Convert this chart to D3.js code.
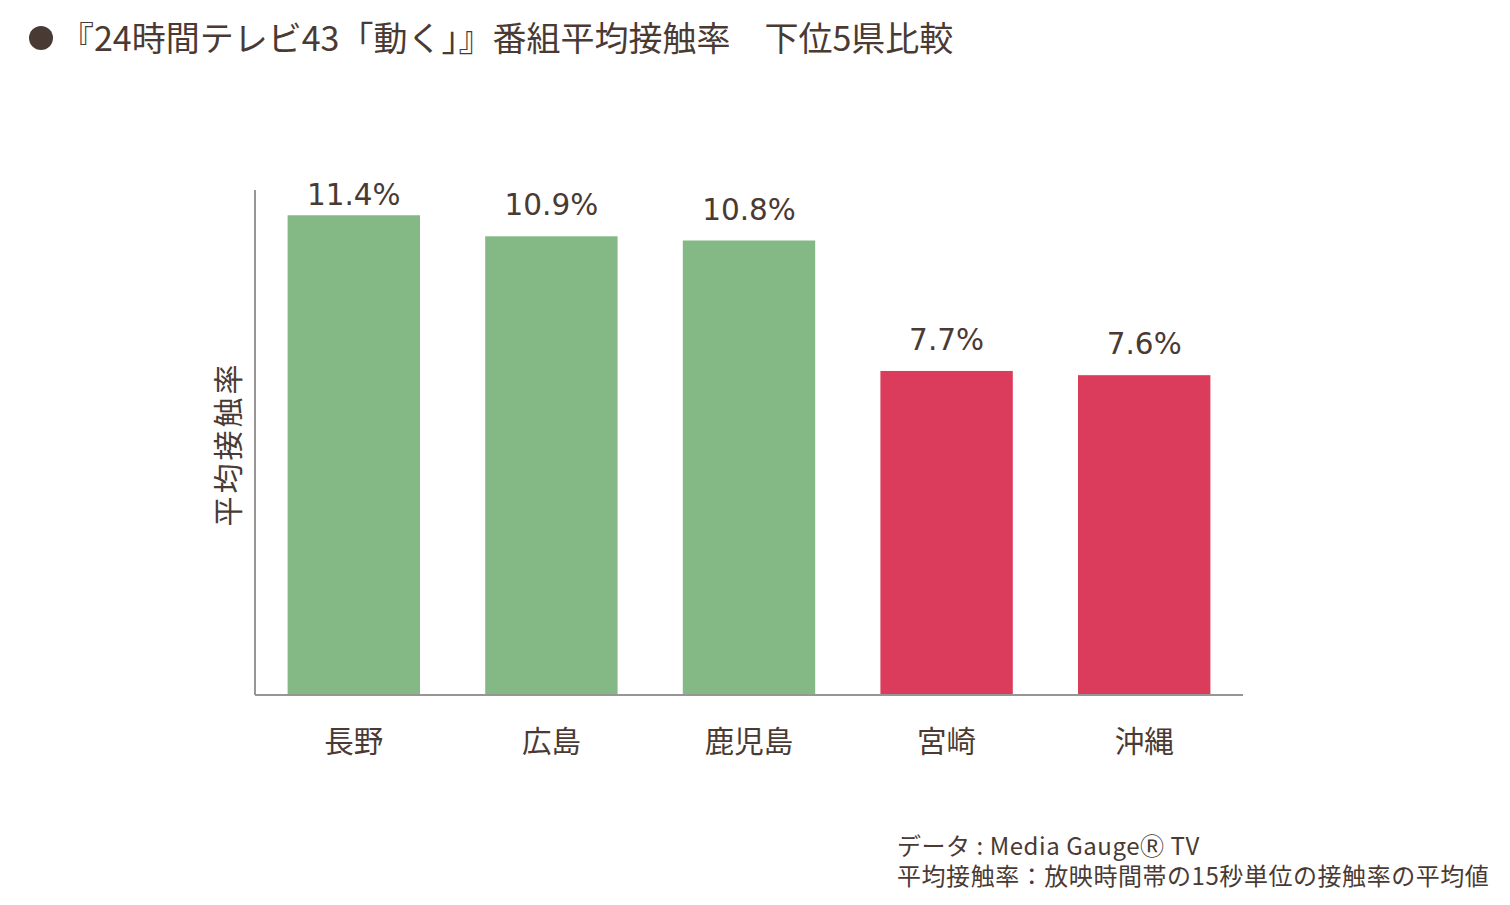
<!DOCTYPE html>
<html>
<head>
<meta charset="utf-8">
<script src="https://cdn.jsdelivr.net/npm/d3@7"></script>
<style>
  body { margin: 0; background: #fff; }
  svg text { fill: #4a3a34; }
</style>
</head>
<body>
<svg id="chart" width="1510" height="905"></svg>
<script>
const prefectures = ["長野", "広島", "鹿児島", "宮崎", "沖縄"];
const rates = [11.4, 10.9, 10.8, 7.7, 7.6];
const groups = ["top", "top", "top", "bottom", "bottom"];

const jp = "'Noto Sans CJK JP', 'Noto Sans', sans-serif";
const numFont = "'DejaVu Sans', Verdana, sans-serif";

const svg = d3.select("#chart");

/* title */
svg.append("circle")
  .attr("cx", 41).attr("cy", 38).attr("r", 12)
  .attr("fill", "#4a3a34");
svg.append("text")
  .attr("x", 60).attr("y", 51)
  .attr("font-family", jp).attr("font-size", 34)
  .text("『24時間テレビ43「動く」』番組平均接触率\u3000下位5県比較");

/* scales */
const x = d3.scaleBand()
  .domain(prefectures)
  .range([255, 1243])
  .paddingInner(0.33)
  .paddingOuter(0.165);

const y = d3.scaleLinear()
  .domain([0, 12])
  .range([695, 190]);

const color = d3.scaleOrdinal()
  .domain(["top", "bottom"])
  .range(["#84b884", "#dc3c5c"]);

const data = prefectures.map((p, i) => ({ name: p, value: rates[i], group: groups[i] }));

/* bars */
svg.append("g")
  .selectAll("rect")
  .data(data).enter()
  .append("rect")
  .attr("x", d => x(d.name))
  .attr("y", d => y(d.value))
  .attr("width", x.bandwidth())
  .attr("height", d => y(0) - y(d.value))
  .attr("fill", d => color(d.group));

/* value labels */
svg.append("g")
  .selectAll("text")
  .data(data).enter()
  .append("text")
  .attr("x", d => x(d.name) + x.bandwidth() / 2)
  .attr("y", d => Math.max(y(d.value) - 21, 205))
  .attr("text-anchor", "middle")
  .attr("font-family", numFont).attr("font-size", 29.5)
  .text(d => d.value.toFixed(1) + "%");

/* axes */
const xAxis = svg.append("g")
  .attr("transform", `translate(0, ${y(0)})`)
  .call(d3.axisBottom(x).tickSize(0).tickPadding(36));
xAxis.select(".domain").attr("stroke", "#9a9595").attr("stroke-width", 2)
  .attr("d", `M255,0H1243`);
xAxis.selectAll("text")
  .attr("font-family", jp).attr("font-size", 29.5)
  .attr("fill", "#4a3a34");

svg.append("line")
  .attr("x1", 255).attr("x2", 255)
  .attr("y1", y(12)).attr("y2", y(0))
  .attr("stroke", "#9a9595").attr("stroke-width", 2);

svg.append("text")
  .attr("transform", "translate(239, 444) rotate(-90)")
  .attr("text-anchor", "middle")
  .attr("font-family", jp).attr("font-size", 30)
  .attr("letter-spacing", 3)
  .text("平均接触率");

/* notes */
const notes = ["データ : Media Gauge\u24c7 TV", "平均接触率：放映時間帯の15秒単位の接触率の平均値"];
svg.append("text")
  .attr("font-family", jp).attr("font-size", 24)
  .attr("letter-spacing", 0.55)
  .selectAll("tspan")
  .data(notes).enter()
  .append("tspan")
  .attr("x", 897)
  .attr("y", (d, i) => 855 + i * 30)
  .text(d => d);
</script>
</body>
</html>
